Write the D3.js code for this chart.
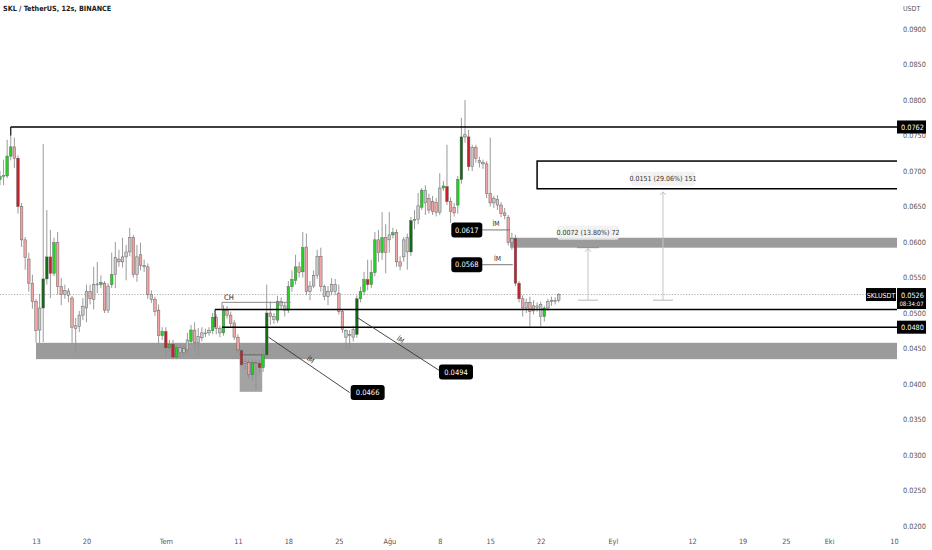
<!DOCTYPE html>
<html><head><meta charset="utf-8">
<script src="https://cdn.jsdelivr.net/npm/d3@7"></script>
<style>
body{margin:0;background:#fff}
svg{display:block}
text{font-family:"Liberation Sans Narrow","DejaVu Sans Condensed","Liberation Sans",sans-serif}
</style>
</head><body>
<svg id="c" width="932" height="550"></svg>
<script>
// ---------- DATA ----------
const title = "SKL / TetherUS, 12s, BINANCE";
const firstBar = "2022-06-08T00:00"; // 12h bars
const open  = [0.0688,0.0692,0.0693,0.0721,0.0734,0.0718,0.0650,0.0603,0.0576,0.0542,0.0516,0.0476,0.0507,0.0548,0.0579,0.0556,0.0599,0.0537,0.0526,0.0531,
0.0521,0.0482,0.0481,0.0497,0.0507,0.0530,0.0519,0.0540,0.0540,0.0542,0.0504,0.0540,0.0554,0.0576,0.0572,0.0579,0.0586,0.0606,0.0554,0.0582,
0.0567,0.0565,0.0526,0.0519,0.0504,0.0468,0.0474,0.0451,0.0456,0.0438,0.0451,0.0444,0.0448,0.0460,0.0476,0.0458,0.0465,0.0471,0.0472,0.0475,
0.0494,0.0478,0.0472,0.0504,0.0497,0.0486,0.0466,0.0447,0.0429,0.0430,0.0413,0.0430,0.0429,0.0423,0.0441,0.0500,0.0495,0.0490,0.0516,0.0510,
0.0504,0.0537,0.0546,0.0565,0.0558,0.0593,0.0530,0.0538,0.0553,0.0580,0.0537,0.0523,0.0530,0.0540,0.0528,0.0502,0.0475,0.0468,0.0466,0.0470,
0.0520,0.0530,0.0547,0.0540,0.0557,0.0603,0.0585,0.0606,0.0603,0.0610,0.0613,0.0572,0.0579,0.0606,0.0586,0.0630,0.0632,0.0649,0.0673,0.0661,
0.0657,0.0656,0.0642,0.0676,0.0678,0.0657,0.0649,0.0652,0.0688,0.0748,0.0748,0.0706,0.0733,0.0715,0.0712,0.0710,0.0668,0.0655,0.0660,0.0652,
0.0641,0.0635,0.0599,0.0605,0.0542,0.0520,0.0507,0.0515,0.0503,0.0510,0.0512,0.0495,0.0507,0.0516,0.0518,0.0518];
const high  = [0.0700,0.0716,0.0744,0.0762,0.0747,0.0722,0.0655,0.0607,0.0585,0.0554,0.0520,0.0527,0.0738,0.0645,0.0617,0.0606,0.0614,0.0549,0.0540,0.0535,
0.0524,0.0493,0.0503,0.0521,0.0540,0.0540,0.0565,0.0572,0.0553,0.0545,0.0542,0.0585,0.0600,0.0589,0.0606,0.0596,0.0620,0.0610,0.0596,0.0599,
0.0575,0.0570,0.0532,0.0523,0.0512,0.0480,0.0480,0.0462,0.0462,0.0456,0.0456,0.0455,0.0472,0.0483,0.0487,0.0479,0.0480,0.0478,0.0480,0.0500,
0.0498,0.0482,0.0511,0.0510,0.0502,0.0490,0.0470,0.0450,0.0436,0.0435,0.0436,0.0434,0.0434,0.0450,0.0540,0.0516,0.0500,0.0524,0.0522,0.0515,
0.0545,0.0560,0.0582,0.0572,0.0614,0.0612,0.0545,0.0560,0.0589,0.0592,0.0540,0.0538,0.0549,0.0548,0.0540,0.0505,0.0477,0.0476,0.0482,0.0525,
0.0537,0.0558,0.0575,0.0575,0.0614,0.0617,0.0642,0.0625,0.0642,0.0620,0.0618,0.0580,0.0607,0.0612,0.0635,0.0645,0.0669,0.0676,0.0680,0.0668,
0.0665,0.0662,0.0697,0.0686,0.0737,0.0663,0.0655,0.0693,0.0775,0.0800,0.0758,0.0737,0.0737,0.0720,0.0716,0.0714,0.0747,0.0665,0.0666,0.0656,
0.0648,0.0638,0.0613,0.0610,0.0545,0.0525,0.0520,0.0523,0.0518,0.0515,0.0516,0.0510,0.0520,0.0523,0.0522,0.0528];
const low   = [0.0680,0.0680,0.0690,0.0715,0.0704,0.0640,0.0593,0.0561,0.0530,0.0506,0.0458,0.0458,0.0459,0.0540,0.0521,0.0552,0.0526,0.0511,0.0520,0.0515,
0.0458,0.0444,0.0473,0.0490,0.0487,0.0512,0.0505,0.0528,0.0535,0.0500,0.0500,0.0535,0.0535,0.0565,0.0564,0.0546,0.0580,0.0550,0.0544,0.0560,
0.0558,0.0520,0.0514,0.0496,0.0455,0.0462,0.0437,0.0445,0.0435,0.0435,0.0438,0.0440,0.0440,0.0455,0.0448,0.0441,0.0460,0.0466,0.0468,0.0470,
0.0470,0.0466,0.0468,0.0492,0.0480,0.0462,0.0444,0.0425,0.0420,0.0408,0.0405,0.0392,0.0415,0.0417,0.0436,0.0483,0.0485,0.0486,0.0505,0.0495,
0.0500,0.0530,0.0540,0.0550,0.0550,0.0525,0.0518,0.0535,0.0548,0.0530,0.0518,0.0511,0.0525,0.0525,0.0498,0.0472,0.0448,0.0448,0.0460,0.0465,
0.0515,0.0525,0.0532,0.0535,0.0552,0.0572,0.0575,0.0556,0.0585,0.0605,0.0565,0.0560,0.0572,0.0561,0.0580,0.0618,0.0625,0.0645,0.0638,0.0640,
0.0638,0.0636,0.0638,0.0672,0.0652,0.0627,0.0636,0.0640,0.0682,0.0740,0.0700,0.0700,0.0712,0.0705,0.0703,0.0662,0.0650,0.0648,0.0645,0.0635,
0.0632,0.0595,0.0589,0.0538,0.0515,0.0495,0.0500,0.0481,0.0498,0.0502,0.0481,0.0488,0.0503,0.0510,0.0512,0.0515];
const close = [0.0692,0.0694,0.0721,0.0734,0.0718,0.0650,0.0603,0.0578,0.0542,0.0516,0.0475,0.0507,0.0548,0.0579,0.0556,0.0599,0.0537,0.0526,0.0532,0.0525,
0.0480,0.0478,0.0497,0.0509,0.0530,0.0520,0.0540,0.0541,0.0543,0.0504,0.0538,0.0554,0.0578,0.0572,0.0579,0.0586,0.0606,0.0554,0.0579,0.0567,
0.0565,0.0526,0.0519,0.0502,0.0468,0.0474,0.0451,0.0456,0.0438,0.0451,0.0444,0.0450,0.0462,0.0476,0.0458,0.0467,0.0472,0.0472,0.0475,0.0494,
0.0478,0.0472,0.0504,0.0497,0.0485,0.0466,0.0448,0.0427,0.0431,0.0413,0.0430,0.0429,0.0423,0.0441,0.0500,0.0495,0.0491,0.0516,0.0510,0.0504,
0.0537,0.0547,0.0565,0.0557,0.0592,0.0530,0.0538,0.0553,0.0580,0.0537,0.0523,0.0530,0.0540,0.0530,0.0502,0.0477,0.0466,0.0470,0.0477,0.0520,
0.0530,0.0547,0.0540,0.0557,0.0603,0.0585,0.0606,0.0585,0.0610,0.0613,0.0572,0.0566,0.0603,0.0586,0.0630,0.0632,0.0651,0.0673,0.0655,0.0645,
0.0643,0.0642,0.0676,0.0679,0.0657,0.0643,0.0641,0.0688,0.0748,0.0751,0.0706,0.0733,0.0718,0.0712,0.0710,0.0668,0.0655,0.0661,0.0652,0.0640,
0.0637,0.0599,0.0605,0.0542,0.0520,0.0507,0.0515,0.0502,0.0510,0.0508,0.0495,0.0507,0.0516,0.0518,0.0518,0.0526];
// candle colour class: G bright green, D dark green, R red, P pink, S grey
const tone = "GSGGPRPPPPPSDDRGPPSSPSSSSPSSGPSGSPSSSPSPSPSPPGRGRGSSSGPSSSSGPSGPPPPRSPGSRGDPSGSSGGGPGPSSSPSSSSPPSSSDGGRGGPGPSGPPSSDSSGSPPPSGRPPGDSRSPSSPPSSPPPSRRPSPSSSGSSSS";
const toneColor = {G:"#22d422", D:"#126a12", R:"#c8202a", P:"#f2a3a3", S:"#c9c9c9"};

const yTickValues = [0.0200,0.0250,0.0300,0.0350,0.0400,0.0450,0.0500,0.0550,0.0600,0.0650,0.0700,0.0750,0.0800,0.0850,0.0900];
const xTickDates  = ["2022-06-13","2022-06-20","2022-07-01","2022-07-11","2022-07-18","2022-07-25","2022-08-01","2022-08-08","2022-08-15","2022-08-22","2022-09-01","2022-09-12","2022-09-19","2022-09-25","2022-10-01","2022-10-10"];
const xTickLabels = ["13","20","Tem","11","18","25","Ağu","8","15","22","Eyl","12","19","25","Eki","10"];

// annotation levels (prices) and anchors (times)
const lastPrice = 0.0526, countdown = "08:34:07", symbol = "SKLUSDT";
const topLevel = {price:0.0762, from:"2022-06-09T12:00"};
const lowLevel = {price:0.0480, from:"2022-07-08T19:00"};
const chBox = {top:0.0505, bottom:0.0480, from:"2022-07-07T20:00"};
const chLine = {price:0.0515, from:"2022-07-08T19:00", to:"2022-07-18T08:00"};
const zoneLow = {top:0.0458, bottom:0.0435, from:"2022-06-13T00:00"};
const zoneMid = {top:0.0606, bottom:0.0592, from:"2022-08-17T18:00"};
const zoneSmall = {top:0.0441, bottom:0.0389, from:"2022-07-11T06:00", to:"2022-07-14T09:00"};
const targetBox = {top:0.0714, bottom:0.0675, from:"2022-08-21T12:00"};
const diag = [
  {p0:0.0466, t0:"2022-07-15T06:00", p1:0.0388, t1:"2022-07-26T12:00", label:"0.0466", lt:"2022-07-29T00:00", lp:0.0388},
  {p0:0.0494, t0:"2022-07-27T12:00", p1:0.0417, t1:"2022-08-08T06:00", label:"0.0494", lt:"2022-08-10T06:00", lp:0.0417}
];
const shortLines = [
  {price:0.0617, from:"2022-08-13T21:00", to:"2022-08-17T18:00", lt:"2022-08-11T18:00"},
  {price:0.0568, from:"2022-08-13T21:00", to:"2022-08-18T03:00", lt:"2022-08-11T18:00"}
];
const measures = [
  {t:"2022-08-28T13:30", p0:0.0518, p1:0.0592, text:"0.0072 (13.80%) 72", tp:0.0613},
  {t:"2022-09-07T23:00", p0:0.0518, p1:0.0672, text:"0.0151 (29.06%) 151", tp:0.0689}
];

// ---------- SCALES ----------
const T = s => new Date(s + (s.length <= 10 ? "T00:00Z" : "Z"));
const plotR = 897;
const x = d3.scaleUtc().domain([T("2022-06-13"), T("2022-10-10")]).range([36, 894]);
const y = d3.scaleLinear().domain([0.02, 0.09]).range([526, 29]);
const t0 = T(firstBar).getTime();
const barT = i => new Date(t0 + i * 12 * 3600 * 1000);

const svg = d3.select("#c");
svg.append("defs").append("clipPath").attr("id","plot")
  .append("rect").attr("x",0).attr("y",0).attr("width",plotR).attr("height",550);
const g = svg.append("g").attr("clip-path","url(#plot)");

// zones
function zone(z, fill){
  const x0 = x(T(z.from)), x1 = z.to ? x(T(z.to)) : plotR;
  g.append("rect").attr("x",x0).attr("width",x1-x0)
    .attr("y",y(z.top)).attr("height",y(z.bottom)-y(z.top)).attr("fill",fill);
}
zone(zoneLow, "#9b9b9b");
zone(zoneMid, "#9b9b9b");
zone(zoneSmall, "#a3a3a3");
g.append("line").attr("x1",x(T(zoneSmall.from))).attr("x2",x(T(zoneSmall.to)))
  .attr("y1",y(zoneSmall.top)).attr("y2",y(zoneSmall.top)).attr("stroke","#666").attr("stroke-width",1);

// current price dotted line
g.append("line").attr("x1",0).attr("x2",866).attr("y1",y(lastPrice)).attr("y2",y(lastPrice))
  .attr("stroke","#9a9a9a").attr("stroke-width",0.8).attr("stroke-dasharray","1.2,1.6");

// measure tools
measures.forEach(m=>{
  const mx = x(T(m.t));
  g.append("line").attr("x1",mx).attr("x2",mx).attr("y1",y(m.p0)).attr("y2",y(m.p1)+1)
    .attr("stroke","#c4c4c4").attr("stroke-width",1);
  g.append("line").attr("x1",mx-10).attr("x2",mx+10).attr("y1",y(m.p0)).attr("y2",y(m.p0))
    .attr("stroke","#c4c4c4").attr("stroke-width",1.2);
  g.append("path").attr("d",`M${mx-3},${y(m.p1)+4}L${mx},${y(m.p1)+1}L${mx+3},${y(m.p1)+4}`)
    .attr("fill","none").attr("stroke","#b8b8b8").attr("stroke-width",0.9);
});
g.append("line").attr("x1",x(T(measures[0].t))-11).attr("x2",x(T(measures[0].t))+11)
  .attr("y1",y(measures[0].p1)).attr("y2",y(measures[0].p1)).attr("stroke","#8a8a8a").attr("stroke-width",1);

// candles
const bw = 2.6;
const candles = g.append("g");
open.forEach((o,i)=>{
  const cx = x(barT(i));
  const c = close[i], col = toneColor[tone[i]];
  candles.append("line").attr("x1",cx).attr("x2",cx).attr("y1",y(high[i])).attr("y2",y(low[i]))
    .attr("stroke","#8f8f8f").attr("stroke-width",0.9);
  const yt = y(Math.max(o,c)), yb = y(Math.min(o,c));
  candles.append("rect").attr("x",cx-bw/2).attr("width",bw)
    .attr("y",yt).attr("height",Math.max(1,yb-yt))
    .attr("fill",col).attr("stroke","#5a5a5a").attr("stroke-width",0.45);
});

// black level lines
function hline(p, xa, xb, w, col){
  g.append("line").attr("x1",xa).attr("x2",xb).attr("y1",y(p)).attr("y2",y(p))
    .attr("stroke",col||"#000").attr("stroke-width",w);
}
hline(topLevel.price, x(T(topLevel.from)), plotR, 1.5);
g.append("line").attr("x1",x(T(topLevel.from))).attr("x2",x(T(topLevel.from)))
  .attr("y1",y(topLevel.price)).attr("y2",y(0.0750)).attr("stroke","#000").attr("stroke-width",1);
hline(chBox.top, x(T(chBox.from)), plotR, 1.4);
g.append("line").attr("x1",x(T(chBox.from))).attr("x2",x(T(chBox.from)))
  .attr("y1",y(chBox.top)).attr("y2",y(chBox.bottom)).attr("stroke","#000").attr("stroke-width",1);
hline(lowLevel.price, x(T(lowLevel.from)), plotR, 1.4);
hline(chLine.price, x(T(chLine.from)), x(T(chLine.to)), 1, "#8a8a8a");
g.append("line").attr("x1",x(T(chLine.from))).attr("x2",x(T(chLine.from)))
  .attr("y1",y(chLine.price)).attr("y2",y(chBox.top)).attr("stroke","#8a8a8a").attr("stroke-width",1);
g.append("text").attr("x",x(T(chLine.from))+7).attr("y",y(chLine.price)-2.5)
  .attr("text-anchor","middle").attr("font-size",7.5).attr("fill","#222").text("CH");

// target box
{
  const x0 = x(T(targetBox.from));
  g.append("rect").attr("x",x0).attr("y",y(targetBox.top)).attr("width",plotR-x0+2)
    .attr("height",y(targetBox.bottom)-y(targetBox.top)).attr("fill","#fff")
    .attr("stroke","#000").attr("stroke-width",1.5);
}

// measure labels
measures.forEach(m=>{
  const mx = x(T(m.t)), my = y(m.tp);
  const tw = m.text.length*2.95+8;
  g.append("rect").attr("x",mx-tw/2).attr("y",my-7).attr("width",tw).attr("height",14).attr("rx",2)
    .attr("fill","#f0f0f0").attr("opacity",0.85);
  g.append("text").attr("x",mx).attr("y",my+2.5).attr("text-anchor","middle")
    .attr("font-size",7).attr("fill","#333").text(m.text);
});

// black price tags in plot
function tag(cx, cy, txt, w){
  g.append("rect").attr("x",cx-w/2).attr("y",cy-7.5).attr("width",w).attr("height",15).attr("rx",3).attr("fill","#000");
  g.append("text").attr("x",cx).attr("y",cy+2.6).attr("text-anchor","middle")
    .attr("font-size",7.5).attr("fill","#fff").text(txt);
}
diag.forEach(d=>{
  const xa = x(T(d.t0)), ya = y(d.p0), xb = x(T(d.t1)), yb = y(d.p1);
  g.append("line").attr("x1",xa).attr("y1",ya).attr("x2",xb).attr("y2",yb).attr("stroke","#333").attr("stroke-width",0.9);
  const ang = Math.atan2(yb-ya, xb-xa)*180/Math.PI;
  const mx = (xa+xb)/2, my = (ya+yb)/2;
  g.append("text").attr("transform",`translate(${mx},${my-3}) rotate(${ang})`)
    .attr("text-anchor","middle").attr("font-size",6.8).attr("fill","#333").text("İM");
  tag(x(T(d.lt)), y(d.lp), d.label, 34);
});
shortLines.forEach(s=>{
  const xa = x(T(s.from)), xb = x(T(s.to));
  g.append("line").attr("x1",xa).attr("x2",xb).attr("y1",y(s.price)).attr("y2",y(s.price))
    .attr("stroke","#666").attr("stroke-width",0.9);
  g.append("text").attr("x",(xa+xb)/2).attr("y",y(s.price)-3.5).attr("text-anchor","middle")
    .attr("font-size",6.8).attr("fill","#333").text("İM");
  tag(x(T(s.lt)), y(s.price), d3.format(".4f")(s.price), 31);
});

// ---------- AXES ----------
const ya = svg.append("g").attr("transform",`translate(903,0)`)
  .call(d3.axisRight(y).tickValues(yTickValues).tickFormat(d3.format(".4f")).tickSize(0).tickPadding(0));
ya.select(".domain").remove();
ya.selectAll("text").attr("font-size",7.3).attr("fill","#555").attr("text-anchor","start");

const xa = svg.append("g").attr("transform",`translate(0,538.5)`)
  .call(d3.axisBottom(x).tickValues(xTickDates.map(T)).tickFormat((d,i)=>xTickLabels[i]).tickSize(0).tickPadding(0));
xa.select(".domain").remove();
xa.selectAll("text").attr("font-size",7.3).attr("fill","#555");

svg.append("text").attr("x",903).attr("y",11).attr("font-size",7).attr("fill","#555").text("USDT");
svg.append("text").attr("x",3).attr("y",11).attr("font-size",7.2).attr("fill","#1a1a1a").attr("font-weight","600").text(title);

// axis price tags
function axisTag(p, txt, sub){
  const h = sub ? 21 : 13, yt = y(p) - 6.5;
  svg.append("rect").attr("x",897).attr("y",yt).attr("width",29).attr("height",h).attr("fill","#000");
  svg.append("text").attr("x",901).attr("y",yt+9.5).attr("font-size",7.3).attr("fill","#fff").text(txt);
  if(sub) svg.append("text").attr("x",911.5).attr("y",yt+18).attr("text-anchor","middle")
    .attr("font-size",6).attr("fill","#fff").text(sub);
}
axisTag(topLevel.price, d3.format(".4f")(topLevel.price));
axisTag(lowLevel.price, d3.format(".4f")(lowLevel.price));
axisTag(lastPrice, d3.format(".4f")(lastPrice), countdown);
svg.append("rect").attr("x",866).attr("y",y(lastPrice)-6.5).attr("width",30).attr("height",13).attr("fill","#000");
svg.append("text").attr("x",881).attr("y",y(lastPrice)+3).attr("text-anchor","middle")
  .attr("font-size",7).attr("fill","#fff").text(symbol);
</script>
</body></html>
